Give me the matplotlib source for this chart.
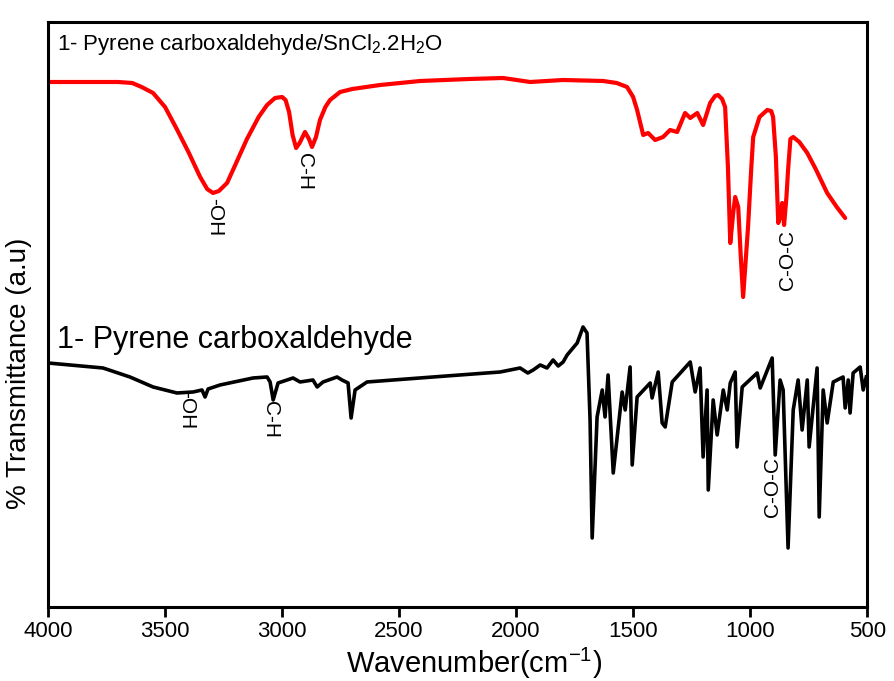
import matplotlib
matplotlib.use("Agg")
import matplotlib.pyplot as plt

plt.rcParams['font.family'] = ['Liberation Sans', 'DejaVu Sans']
plt.rcParams['mathtext.fontset'] = 'custom'
plt.rcParams['mathtext.rm'] = 'Liberation Sans'

# Red: 1-Pyrene carboxaldehyde/SnCl2.2H2O (wavenumber, transmittance a.u.)
red_wn = [4000, 3700, 3640, 3600, 3551, 3500, 3450, 3400, 3350, 3320, 3295, 3270,
          3235, 3200, 3150, 3100, 3064, 3030, 3000, 2985, 2970, 2955, 2940, 2925,
          2902, 2885, 2872, 2855, 2838, 2815, 2795, 2752, 2700, 2581, 2410, 2200,
          2056, 1940, 1800, 1628, 1570, 1526, 1500, 1483, 1457, 1436, 1406, 1372,
          1342, 1312, 1278, 1256, 1226, 1201, 1171, 1150, 1137, 1120, 1107, 1095,
          1085, 1072, 1064, 1051, 1040, 1030, 1018, 1009, 995, 987, 960, 927, 910,
          902, 890, 880, 872, 863, 855, 845, 838, 828, 816, 790, 756, 720, 671,
          630, 594]
red_t = [525, 525, 524, 520, 514, 500, 478, 455, 430, 418, 414, 416,
         424, 442, 468, 490, 502, 509, 510, 507, 495, 472, 459, 464,
         475, 468, 460, 470, 487, 500, 507, 515, 518, 522, 526, 528,
         529, 525, 527, 526, 524, 520, 510, 497, 472, 474, 467, 470,
         477, 475, 494, 489, 494, 482, 504, 511, 512, 508, 500, 440,
         364, 395, 410, 400, 350, 310, 350, 380, 440, 470, 490, 497, 496,
         490, 450, 384, 390, 404, 382, 410, 437, 468, 470, 465, 454, 438, 414,
         400, 389]

# Black: 1-Pyrene carboxaldehyde
blk_wn = [4000, 3765, 3650, 3551, 3449, 3380, 3342, 3329, 3316, 3265, 3124, 3064,
          3051, 3038, 3017, 2953, 2923, 2868, 2850, 2825, 2765, 2744, 2718, 2705,
          2688, 2637, 2355, 2068, 1983, 1950, 1927, 1897, 1868, 1842, 1820, 1799,
          1782, 1739, 1714, 1697, 1684, 1675, 1654, 1632, 1620, 1607, 1585, 1547,
          1534, 1513, 1504, 1483, 1427, 1419, 1393, 1376, 1363, 1333, 1256, 1235,
          1214, 1201, 1184, 1179, 1158, 1141, 1115, 1098, 1085, 1064, 1056, 1034,
          970, 957, 906, 893, 872, 859, 838, 816, 795, 778, 756, 748, 714, 705,
          688, 671, 645, 603, 594, 581, 573, 560, 530, 517, 504]
blk_t = [244, 239, 230, 220, 214, 215, 217, 210, 218, 222, 229, 230,
         225, 207, 224, 229, 225, 227, 220, 225, 230, 227, 224, 189,
         217, 225, 230, 235, 239, 234, 237, 242, 239, 247, 241, 245,
         252, 264, 280, 274, 187, 69, 190, 217, 190, 232, 134, 215,
         197, 240, 142, 210, 224, 209, 235, 184, 180, 225, 245, 215,
         239, 150, 217, 117, 207, 172, 217, 197, 224, 235, 160, 220,
         234, 219, 249, 152, 227, 217, 59, 197, 227, 177, 227, 160,
         239, 90, 217, 184, 225, 230, 199, 227, 194, 234, 240, 217, 230]

xticks = [4000, 3500, 3000, 2500, 2000, 1500, 1000, 500]

fig = plt.figure(figsize=(8.94, 6.81), dpi=100)
ax = fig.add_axes([0.0537, 0.1087, 0.9163, 0.859])

ax.plot(red_wn, red_t, color='#ff0000', lw=3.0, solid_joinstyle='round',
        solid_capstyle='round')
ax.plot(blk_wn, blk_t, color='black', lw=2.6, solid_joinstyle='round')

ax.set_xlim(4000, 500)
ax.set_ylim(0, 585)
ax.set_xticks(xticks)
ax.set_xticklabels([str(t) for t in xticks], fontsize=16)
ax.set_yticks([])
for s in ax.spines.values():
    s.set_linewidth(2.2)
ax.tick_params(axis='x', direction='out', length=7, width=2, pad=3)

ax.set_xlabel('Wavenumber(cm$^{-1}$)', fontsize=21)
ax.xaxis.set_label_coords(0.52, -0.066)
ax.set_ylabel('% Transmittance (a.u)', fontsize=20)
ax.yaxis.set_label_coords(-0.019, 0.40)

ax.text(3962, 562, '1- Pyrene carboxaldehyde/SnCl$_2$.2H$_2$O', fontsize=16,
        ha='left', va='center')
ax.text(3962, 267, '1- Pyrene carboxaldehyde', fontsize=22,
        ha='left', va='center')

ann = [
    (3287, 390, '-OH', 270),
    (2902, 435, 'C-H', 270),
    (842, 347, 'C-O-C', 90),
    (3406, 197, '-OH', 270),
    (3051, 187, 'C-H', 270),
    (906, 120, 'C-O-C', 90),
]
for w, t, s, r in ann:
    ax.text(w, t, s, rotation=r, fontsize=15, ha='center', va='center')

fig.savefig('out.png', dpi=100)
